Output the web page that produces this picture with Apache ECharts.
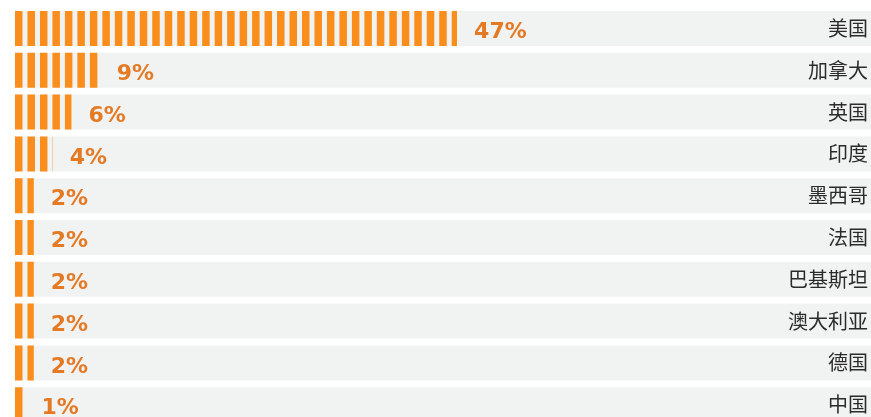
<!DOCTYPE html>
<html>
<head>
<meta charset="utf-8">
<script src="https://cdn.jsdelivr.net/npm/echarts@6/dist/echarts.min.js"></script>
<style>
  html, body { margin: 0; padding: 0; background: #ffffff; overflow: hidden; }
  /* last row runs past the bottom edge of the view */
  #chart { width: 871px; height: 432px; }
</style>
</head>
<body>
<div id="chart"></div>
<script>
// Share by country, top to bottom
const countries = ['美国', '加拿大', '英国', '印度', '墨西哥', '法国', '巴基斯坦', '澳大利亚', '德国', '中国'];
const shares = [47, 9, 6, 4, 2, 2, 2, 2, 2, 1];
const axisMax = 91;

const chart = echarts.init(document.getElementById('chart'));

chart.setOption({
  animation: false,
  grid: { left: 15, right: 0, top: 7.6, height: 418, containLabel: false },
  xAxis: {
    type: 'value', min: 0, max: axisMax, show: false
  },
  yAxis: {
    type: 'category',
    data: countries,
    inverse: true,
    position: 'right',
    axisLine: { show: false },
    axisTick: { show: false },
    splitLine: { show: false },
    axisLabel: {
      inside: true,
      margin: 3,
      fontSize: 20,
      color: '#2b2b2b',
      fontFamily: '"Noto Sans CJK SC", sans-serif',
      padding: [7, 0, 0, 0]
    },
    z: 10
  },
  series: [
    {
      // light row bands plus the value labels
      type: 'bar',
      data: shares,
      barWidth: 35,
      showBackground: true,
      backgroundStyle: { color: '#f1f3f3' },
      itemStyle: { color: 'rgba(0,0,0,0)' },
      label: {
        show: true,
        position: 'right',
        distance: 17,
        offset: [0, 4],
        formatter: '{c}%',
        fontSize: 22,
        fontWeight: 'bold',
        color: '#e57a25',
        fontFamily: '"DejaVu Sans", sans-serif'
      },
      silent: true,
      z: 1
    },
    {
      type: 'pictorialBar',
      data: shares,
      symbol: 'rect',
      symbolRepeat: 69,
      symbolClip: true,
      symbolBoundingData: axisMax,
      symbolSize: [7.5, 35],
      symbolPosition: 'start',
      barGap: '-100%',
      itemStyle: { color: '#f98e1d' },
      silent: true,
      z: 5
    }
  ]
});
</script>
</body>
</html>
